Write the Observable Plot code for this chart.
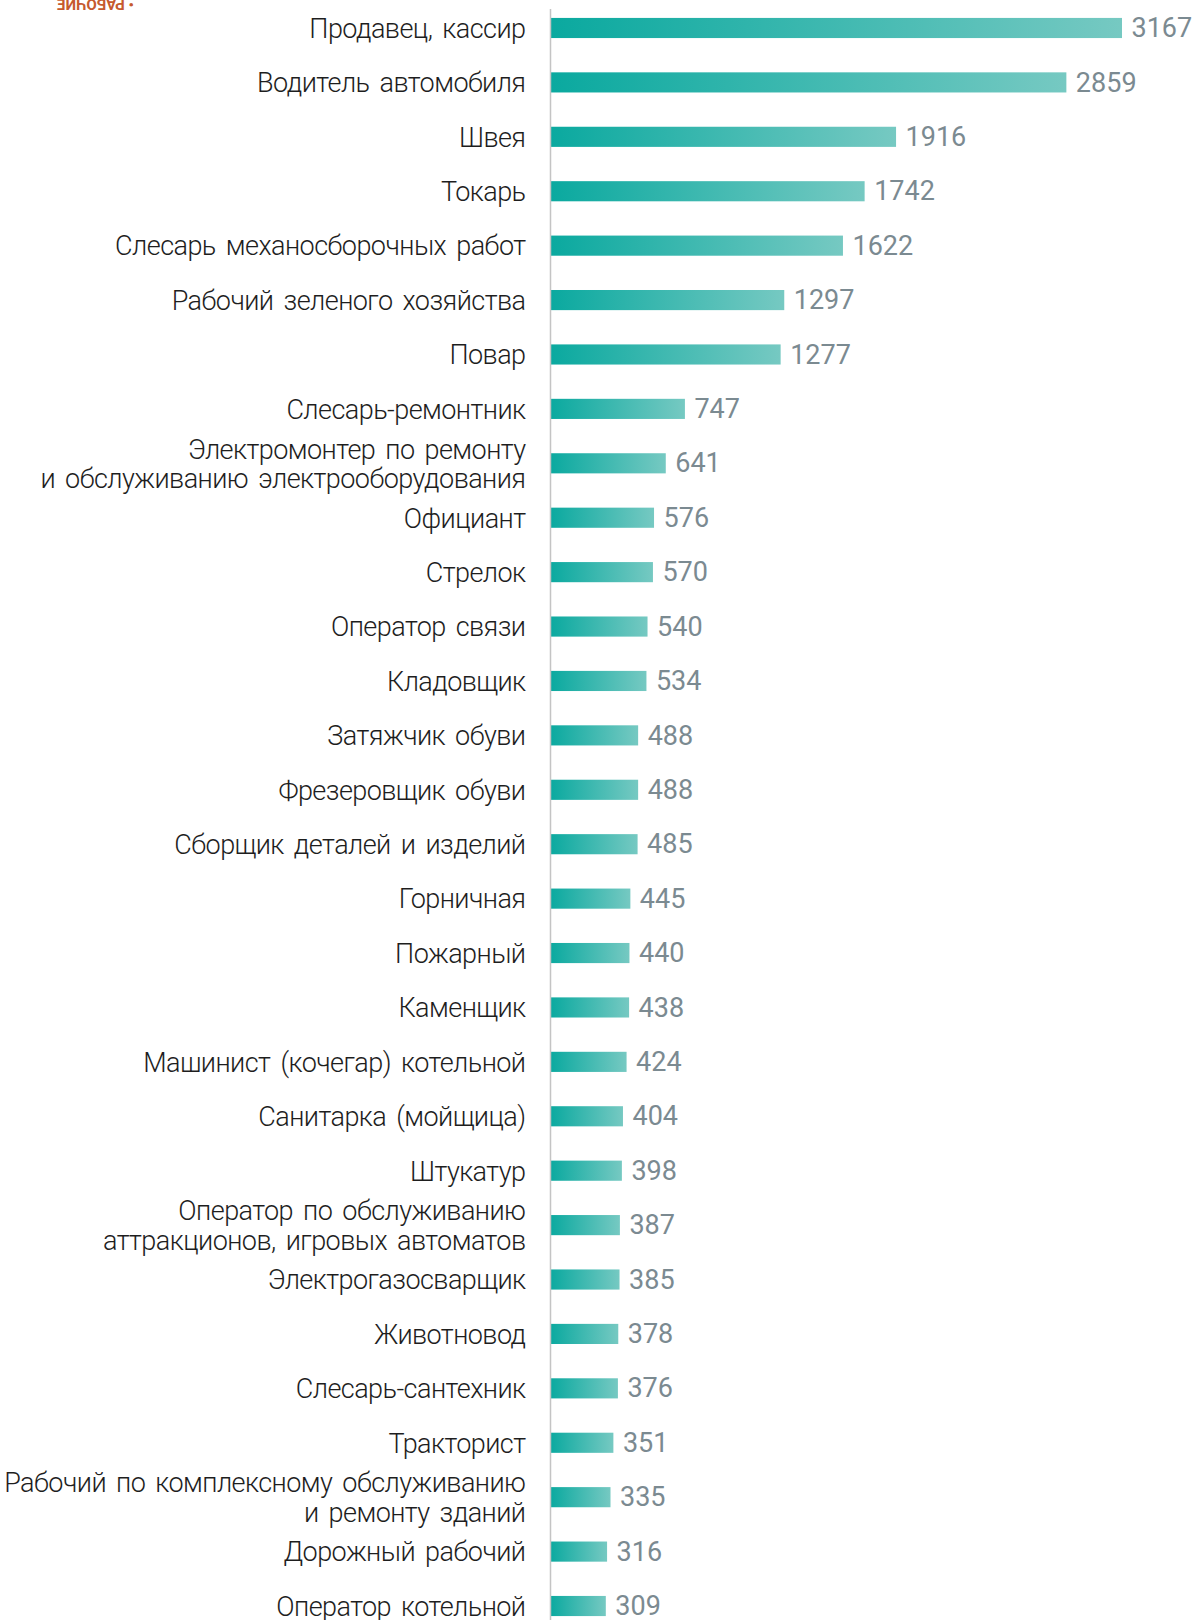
<!DOCTYPE html>
<html>
<head>
<meta charset="utf-8">
<script src="https://cdn.jsdelivr.net/npm/d3@7"></script>
<script src="https://cdn.jsdelivr.net/npm/@observablehq/plot@0.6"></script>
<style>
  html, body { margin: 0; padding: 0; background: #fff; overflow: hidden; }
  #chart svg { display: block; }
  #chart g.labels text { letter-spacing: -0.55px; word-spacing: 4px; }
</style>
</head>
<body>
<div id="chart"></div>
<script>
const professions = [
  "Продавец, кассир",
  "Водитель автомобиля",
  "Швея",
  "Токарь",
  "Слесарь механосборочных работ",
  "Рабочий зеленого хозяйства",
  "Повар",
  "Слесарь-ремонтник",
  "Электромонтер по ремонту\nи обслуживанию электрооборудования",
  "Официант",
  "Стрелок",
  "Оператор связи",
  "Кладовщик",
  "Затяжчик обуви",
  "Фрезеровщик обуви",
  "Сборщик деталей и изделий",
  "Горничная",
  "Пожарный",
  "Каменщик",
  "Машинист (кочегар) котельной",
  "Санитарка (мойщица)",
  "Штукатур",
  "Оператор по обслуживанию\nаттракционов, игровых автоматов",
  "Электрогазосварщик",
  "Животновод",
  "Слесарь-сантехник",
  "Тракторист",
  "Рабочий по комплексному обслуживанию\nи ремонту зданий",
  "Дорожный рабочий",
  "Оператор котельной"
];
const vacancies = [3167, 2859, 1916, 1742, 1622, 1297, 1277, 747, 641, 576, 570, 540, 534, 488, 488, 485, 445, 440, 438, 424, 404, 398, 387, 385, 378, 376, 351, 335, 316, 309];
const stampText = ["• РАБОЧИЕ"];

const data = professions.map((name, i) => ({name, value: vacancies[i]}));

const gradientDefs = () => {
  const defs = d3.create("svg:defs");
  const g = defs.append("linearGradient").attr("id", "barGrad").attr("x1", "0").attr("x2", "1").attr("y1", "0").attr("y2", "0");
  g.append("stop").attr("offset", "0%").attr("stop-color", "#0aa99f");
  g.append("stop").attr("offset", "100%").attr("stop-color", "#76c9c2");
  return defs.node();
};

const chart = Plot.plot({
  width: 1194,
  height: 1625,
  marginTop: 9,
  marginBottom: 0,
  marginLeft: 550,
  marginRight: 72,
  style: {fontFamily: "Roboto", background: "#fff"},
  x: {domain: [0, 3167], axis: null},
  y: {domain: professions, axis: null, paddingInner: 0.63, paddingOuter: 0.164, round: false},
  marks: [
    gradientDefs,
    Plot.barX(data, {x: "value", y: "name", fill: "url(#barGrad)"}),
    Plot.ruleX([0], {stroke: "#c4c4c4", strokeWidth: 1.5}),
    Plot.text(data, {x: 0, y: "name", text: "name", textAnchor: "end", dx: -25, fontSize: 27, fontWeight: 300, fill: "#1e1e1e", lineHeight: 1.08, className: "labels"}),
    Plot.text(data, {x: "value", y: "name", text: d => String(d.value), textAnchor: "start", dx: 9, fontSize: 27, fontWeight: 400, fill: "#7b8a91"}),
    Plot.text(stampText, {frameAnchor: "top-left", text: d => d, dx: -455, dy: 0, rotate: 180, fontSize: 15, fontWeight: 700, fill: "#c65a2e", textAnchor: "middle"})
  ]
});
document.getElementById("chart").appendChild(chart);
</script>
</body>
</html>
